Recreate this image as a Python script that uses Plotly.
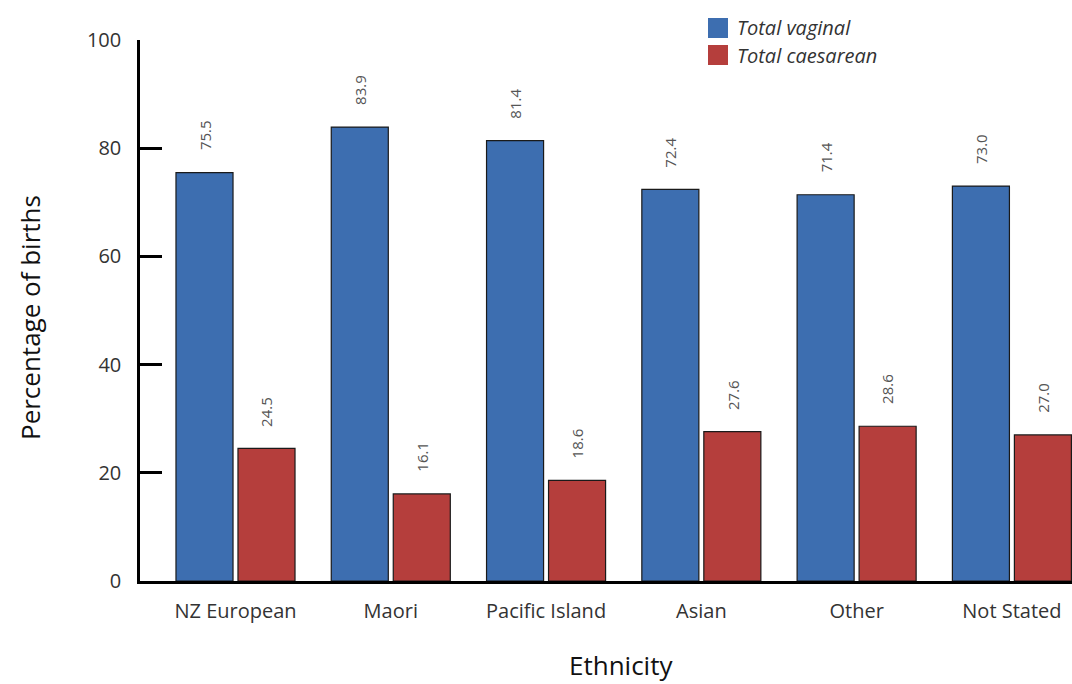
import plotly.graph_objects as go

# Birth outcomes by ethnicity
ethnicity = ["NZ European", "Maori", "Pacific Island", "Asian", "Other", "Not Stated"]
vaginal = [75.5, 83.9, 81.4, 72.4, 71.4, 73.0]
caesarean = [24.5, 16.1, 18.6, 27.6, 28.6, 27.0]
y_ticks = [0, 20, 40, 60, 80, 100]

BLUE = "#3d6eb0"
RED = "#b53e3c"
FONT = "Open Sans"
idx = list(range(len(ethnicity)))
half = 0.1996  # offset of each bar centre from the group centre

# plot-area geometry in pixels, used to place legend and titles in paper units
L, R, T, B = 140, 1072, 40, 581
PW, PH = R - L, B - T

def px(x):
    return (x - L) / PW

def py(y):
    return (B - y) / PH

fig = go.Figure()
for vals, col, off, name in [(vaginal, BLUE, -half, "Total vaginal"),
                             (caesarean, RED, half, "Total caesarean")]:
    fig.add_trace(go.Bar(
        x=idx, y=vals, name=name, marker_color=col,
        marker_line=dict(color="#1a1a1a", width=1.2),
        showlegend=False,
    ))
    for i, v in zip(idx, vals):
        fig.add_annotation(
            x=i + off, y=v, xref="x", yref="y", text=f"{v:.1f}",
            textangle=-90, showarrow=False, yanchor="bottom", yshift=20,
            font=dict(family=FONT, size=15, color="#555555"),
        )

# legend drawn as swatches with italic labels
for k, (col, name) in enumerate([(BLUE, "Total vaginal"), (RED, "Total caesarean")]):
    top = 18 + k * 27
    fig.add_shape(type="rect", xref="paper", yref="paper",
                  x0=px(708), x1=px(728), y0=py(top + 20), y1=py(top),
                  fillcolor=col, line_width=0)
    fig.add_annotation(xref="paper", yref="paper",
                       x=px(735), y=py(top + 10),
                       xanchor="left", yanchor="middle", showarrow=False,
                       text=f"<i>{name}</i>",
                       font=dict(family=FONT, size=20, color="#333333"))

# axis titles
fig.add_annotation(xref="paper", yref="paper", x=px(621), y=py(665),
                   xanchor="center", yanchor="middle", showarrow=False,
                   text="Ethnicity",
                   font=dict(family=FONT, size=26, color="#111111"))
fig.add_annotation(xref="paper", yref="paper", x=px(30), y=py(318),
                   xanchor="center", yanchor="middle", showarrow=False,
                   textangle=-90, text="Percentage of births",
                   font=dict(family=FONT, size=26, color="#111111"))

fig.update_layout(
    width=1072, height=684,
    margin=dict(l=L, r=1072 - R, t=T, b=684 - B),
    paper_bgcolor="white", plot_bgcolor="white",
    barmode="group", bargap=0.2015, bargroupgap=0.08,
    font=dict(family=FONT, color="#222222"),
)
fig.update_xaxes(
    tickmode="array", tickvals=idx, ticktext=ethnicity,
    range=[-0.615, 5.387], showgrid=False, zeroline=False,
    showline=True, linecolor="black", linewidth=2.5,
    ticks="", ticklabelstandoff=10,
    tickfont=dict(family=FONT, size=20, color="#333333"),
)
fig.update_yaxes(
    range=[0, 100], tickvals=y_ticks, showgrid=False, zeroline=False,
    showline=True, linecolor="black", linewidth=2.5,
    ticks="inside", ticklen=22, tickwidth=2.5, tickcolor="black",
    ticklabelstandoff=12,
    tickfont=dict(family=FONT, size=20, color="#333333"),
)

fig.write_html("out.html")
